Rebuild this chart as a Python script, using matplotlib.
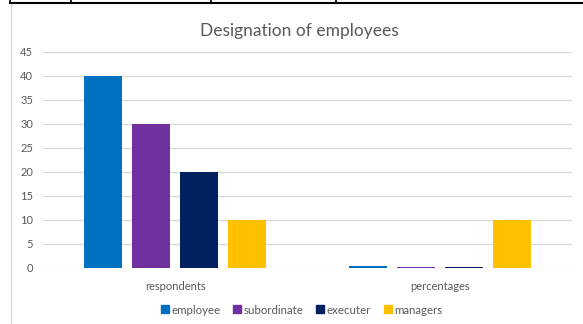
import numpy as np
import matplotlib
matplotlib.use('Agg')
import matplotlib.pyplot as plt
from matplotlib.lines import Line2D

# data
categories = ['respondents', 'percentages']
series_names = ['employee', 'subordinate', 'executer', 'managers']
employee = [40, 0.4]
subordinate = [30, 0.3]
executer = [20, 0.2]
managers = [10, 10]
yticks = [0, 5, 10, 15, 20, 25, 30, 35, 40, 45]

colors = ['#0070C0', '#7030A0', '#002060', '#FFC000']
grey = '#595959'

plt.rcParams['font.family'] = ['Lato', 'DejaVu Sans']

fig = plt.figure(figsize=(5.83, 3.24), dpi=100, facecolor='white')
ax = fig.add_axes([43/583, 1-268/324, 529/583, 216/324])

x = np.arange(len(categories))
width = 0.1437
step = 0.1815
all_vals = [employee, subordinate, executer, managers]
for i, (name, vals) in enumerate(zip(series_names, all_vals)):
    ax.bar(x + (i - 1.5)*step, vals, width, color=colors[i], label=name, zorder=3)

ax.set_xlim(-0.5, 1.5)
ax.set_ylim(0, 45)
ax.set_yticks(yticks)
ax.yaxis.grid(True, color='#D9D9D9', linewidth=0.9, zorder=0)
for s in ax.spines.values():
    s.set_visible(False)
ax.tick_params(axis='both', length=0, colors=grey, labelsize=8)
ax.tick_params(axis='y', pad=7)
ax.tick_params(axis='x', pad=9)
ax.set_xticks(x)
ax.set_xticklabels(categories)

fig.text(299/583, 1-31/324, 'Designation of employees', color=grey,
         fontsize=12.5, ha='center', va='center')

handles = [Line2D([], [], marker='s', linestyle='', markersize=5.5,
                  markerfacecolor=c, markeredgecolor=c) for c in colors]
fig.legend(handles, series_names, loc='center', bbox_to_anchor=(301/583, 1-310/324),
           ncol=4, frameon=False, fontsize=8.3, labelcolor=grey,
           handlelength=0.9, handletextpad=0.1, columnspacing=1.0)

# table lines above the chart and chart border
fig.add_artist(Line2D([10/583, 1], [1-3/324, 1-3/324], color='black', lw=1.5))
for xp in [10, 71, 211, 336]:
    fig.add_artist(Line2D([xp/583, xp/583], [1, 1-3/324], color='black', lw=1.2))
fig.add_artist(Line2D([11/583, 11/583], [0, 1-4/324], color='#D9D9D9', lw=1))

fig.savefig('out.png', dpi=100, facecolor='white')
